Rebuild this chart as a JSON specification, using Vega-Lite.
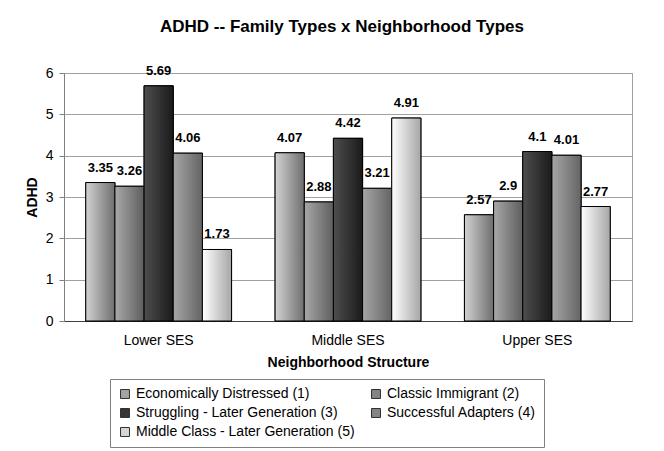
{
  "$schema": "https://vega.github.io/schema/vega-lite/v6.json",
  "width": 568,
  "height": 248,
  "autosize": {"type": "none"},
  "padding": {"left": 64, "top": 73, "right": 32, "bottom": 130},
  "background": "white",
  "title": {
    "text": "ADHD -- Family Types x Neighborhood Types",
    "font": "Liberation Sans",
    "fontSize": 17,
    "fontWeight": "bold",
    "color": "black",
    "offset": 29,
    "dx": -6
  },
  "data": {
    "values": [
      {"ses": "Lower SES", "type": "Economically Distressed (1)", "adhd": 3.35},
      {"ses": "Lower SES", "type": "Classic Immigrant (2)", "adhd": 3.26},
      {"ses": "Lower SES", "type": "Struggling - Later Generation (3)", "adhd": 5.69},
      {"ses": "Lower SES", "type": "Successful Adapters (4)", "adhd": 4.06},
      {"ses": "Lower SES", "type": "Middle Class - Later Generation (5)", "adhd": 1.73},
      {"ses": "Middle SES", "type": "Economically Distressed (1)", "adhd": 4.07},
      {"ses": "Middle SES", "type": "Classic Immigrant (2)", "adhd": 2.88},
      {"ses": "Middle SES", "type": "Struggling - Later Generation (3)", "adhd": 4.42},
      {"ses": "Middle SES", "type": "Successful Adapters (4)", "adhd": 3.21},
      {"ses": "Middle SES", "type": "Middle Class - Later Generation (5)", "adhd": 4.91},
      {"ses": "Upper SES", "type": "Economically Distressed (1)", "adhd": 2.57},
      {"ses": "Upper SES", "type": "Classic Immigrant (2)", "adhd": 2.9},
      {"ses": "Upper SES", "type": "Struggling - Later Generation (3)", "adhd": 4.1},
      {"ses": "Upper SES", "type": "Successful Adapters (4)", "adhd": 4.01},
      {"ses": "Upper SES", "type": "Middle Class - Later Generation (5)", "adhd": 2.77}
    ]
  },
  "encoding": {
    "x": {
      "field": "ses",
      "type": "nominal",
      "sort": null,
      "scale": {"paddingInner": 0.23, "paddingOuter": 0.115},
      "axis": {
        "title": "Neighborhood Structure",
        "titleFont": "Liberation Sans",
        "titleFontSize": 14,
        "titleFontWeight": "bold",
        "titleColor": "black",
        "titlePadding": 8,
        "labelFont": "Liberation Sans",
        "labelFontSize": 14,
        "labelColor": "black",
        "labelAngle": 0,
        "labelPadding": 12,
        "ticks": false,
        "domainColor": "#404040",
        "grid": false
      }
    },
    "xOffset": {
      "field": "type",
      "type": "nominal",
      "sort": null,
      "scale": {
        "domain": [
          "Economically Distressed (1)",
          "Classic Immigrant (2)",
          "Struggling - Later Generation (3)",
          "Successful Adapters (4)",
          "Middle Class - Later Generation (5)"
        ]
      }
    },
    "y": {
      "field": "adhd",
      "type": "quantitative",
      "scale": {"domain": [0, 6]},
      "axis": {
        "title": "ADHD",
        "titleFont": "Liberation Sans",
        "titleFontSize": 14,
        "titleFontWeight": "bold",
        "titleColor": "black",
        "titlePadding": 6,
        "labelFont": "Liberation Sans",
        "labelFontSize": 14,
        "labelColor": "black",
        "labelPadding": 6,
        "tickSize": 5,
        "tickColor": "#808080",
        "domainColor": "#808080",
        "gridColor": "#a0a0a0",
        "values": [0, 1, 2, 3, 4, 5, 6]
      }
    }
  },
  "layer": [
    {
      "mark": {"type": "bar", "stroke": "black", "strokeWidth": 1},
      "encoding": {
        "color": {
          "field": "type",
          "type": "nominal",
          "sort": null,
          "scale": {
            "domain": [
              "Economically Distressed (1)",
              "Classic Immigrant (2)",
              "Struggling - Later Generation (3)",
              "Successful Adapters (4)",
              "Middle Class - Later Generation (5)"
            ],
            "range": ["#a4a4a4", "#848484", "#353535", "#858585", "#d6d6d6"]
          },
          "legend": {
            "title": null,
            "orient": "none",
            "legendX": 46,
            "legendY": 306,
            "direction": "horizontal",
            "columns": 2,
            "gridAlign": "all",
            "columnPadding": 14,
            "rowPadding": 5,
            "padding": 8,
            "strokeColor": "#808080",
            "symbolType": "square",
            "symbolSize": 80,
            "symbolStrokeColor": "#303030",
            "symbolStrokeWidth": 1,
            "symbolOpacity": 1,
            "labelFont": "Liberation Sans",
            "labelFontSize": 14,
            "labelColor": "black",
            "labelOffset": 4,
            "labelLimit": 300
          }
        }
      }
    },
    {
      "transform": [{"filter": "datum.type === 'Economically Distressed (1)'"}],
      "mark": {"type": "bar", "stroke": "black", "strokeWidth": 1,
        "fill": {"gradient": "linear", "x1": 0, "y1": 0, "x2": 1, "y2": 0, "stops": [{"offset": 0, "color": "#d2d2d2"}, {"offset": 1, "color": "#6e6e6e"}]}}
    },
    {
      "transform": [{"filter": "datum.type === 'Classic Immigrant (2)'"}],
      "mark": {"type": "bar", "stroke": "black", "strokeWidth": 1,
        "fill": {"gradient": "linear", "x1": 0, "y1": 0, "x2": 1, "y2": 0, "stops": [{"offset": 0, "color": "#a8a8a8"}, {"offset": 1, "color": "#5e5e5e"}]}}
    },
    {
      "transform": [{"filter": "datum.type === 'Struggling - Later Generation (3)'"}],
      "mark": {"type": "bar", "stroke": "black", "strokeWidth": 1,
        "fill": {"gradient": "linear", "x1": 0, "y1": 0, "x2": 1, "y2": 0, "stops": [{"offset": 0, "color": "#4e4e4e"}, {"offset": 1, "color": "#1a1a1a"}]}}
    },
    {
      "transform": [{"filter": "datum.type === 'Successful Adapters (4)'"}],
      "mark": {"type": "bar", "stroke": "black", "strokeWidth": 1,
        "fill": {"gradient": "linear", "x1": 0, "y1": 0, "x2": 1, "y2": 0, "stops": [{"offset": 0, "color": "#a6a6a6"}, {"offset": 1, "color": "#646464"}]}}
    },
    {
      "transform": [{"filter": "datum.type === 'Middle Class - Later Generation (5)'"}],
      "mark": {"type": "bar", "stroke": "black", "strokeWidth": 1,
        "fill": {"gradient": "linear", "x1": 0, "y1": 0, "x2": 1, "y2": 0, "stops": [{"offset": 0, "color": "#ffffff"}, {"offset": 1, "color": "#a6a6a6"}]}}
    },
    {
      "mark": {
        "type": "text",
        "dy": -15,
        "font": "Liberation Sans",
        "fontSize": 13,
        "fontWeight": "bold",
        "color": "black"
      },
      "encoding": {
        "text": {"field": "adhd", "type": "quantitative"}
      }
    }
  ],
  "config": {
    "view": {"stroke": "#a0a0a0"}
  }
}
